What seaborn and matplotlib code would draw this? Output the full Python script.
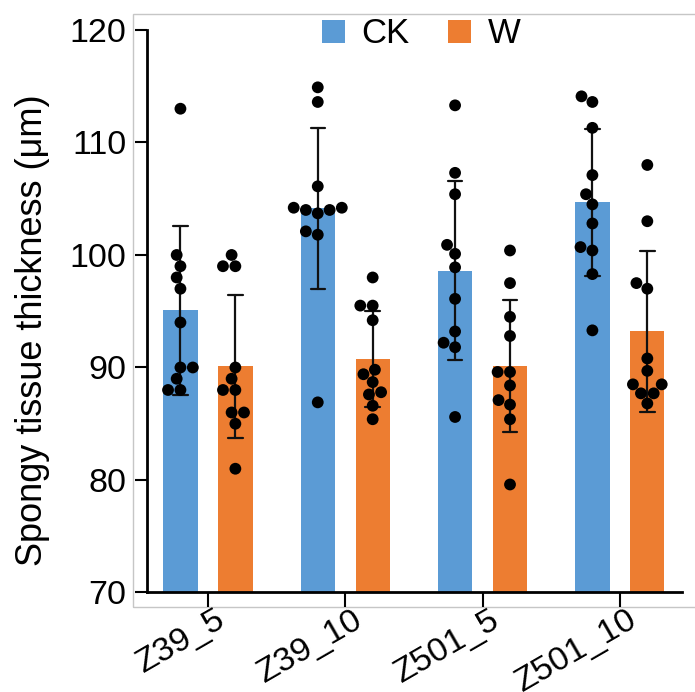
import matplotlib
matplotlib.use("Agg")
import matplotlib.pyplot as plt
import matplotlib.transforms as mtransforms
import seaborn as sns
import pandas as pd
from matplotlib.patches import Patch, Rectangle

sns.set_theme(style="ticks")
plt.rcParams["font.family"] = ["Liberation Sans", "DejaVu Sans"]
plt.rcParams["text.color"] = "black"
plt.rcParams["axes.labelcolor"] = "black"
plt.rcParams["xtick.color"] = "black"
plt.rcParams["ytick.color"] = "black"

groups = ["Z39_5", "Z39_10", "Z501_5", "Z501_10"]
treatments = ["CK", "W"]
colors = ["#5B9BD5", "#ED7D31"]

ck_z39_5 = [113, 100, 99, 98, 97, 94, 90, 90, 89, 88, 88]
w_z39_5 = [100, 99, 99, 90, 89, 88, 88, 86, 86, 85, 81]
ck_z39_10 = [114.9, 113.6, 106.1, 104.2, 104.2, 104.0, 104.0, 103.7, 102.1, 101.8, 86.9]
w_z39_10 = [98.0, 95.5, 95.5, 94.2, 89.8, 89.4, 88.7, 87.8, 87.6, 86.6, 85.4]
ck_z501_5 = [113.3, 107.3, 105.4, 100.9, 100.1, 98.9, 96.1, 93.2, 92.2, 91.8, 85.6]
w_z501_5 = [100.4, 97.5, 94.5, 92.8, 89.6, 89.6, 88.4, 87.1, 86.7, 85.4, 79.6]
ck_z501_10 = [114.1, 113.6, 111.3, 107.1, 105.4, 104.5, 102.8, 100.7, 100.4, 98.3, 93.3]
w_z501_10 = [108.0, 103.0, 97.5, 97.0, 90.8, 89.7, 88.5, 88.5, 87.7, 87.7, 86.8]

series = {
    ("Z39_5", "CK"): ck_z39_5, ("Z39_5", "W"): w_z39_5,
    ("Z39_10", "CK"): ck_z39_10, ("Z39_10", "W"): w_z39_10,
    ("Z501_5", "CK"): ck_z501_5, ("Z501_5", "W"): w_z501_5,
    ("Z501_10", "CK"): ck_z501_10, ("Z501_10", "W"): w_z501_10,
}
rows = []
for (g, t), vals in series.items():
    for v in vals:
        rows.append((g, t, v))
df = pd.DataFrame(rows, columns=["group", "treatment", "value"])

fig = plt.figure(figsize=(6.95, 6.92), dpi=100)
ax = fig.add_axes([0.2122, 0.1438, 0.7686, 0.8129])

palette = dict(zip(treatments, colors))
sns.barplot(data=df, x="group", y="value", hue="treatment", order=groups,
            hue_order=treatments, palette=palette, errorbar="sd", capsize=0.21,
            width=0.8, gap=0.375, saturation=1, linewidth=0,
            err_kws={"color": "#111111", "linewidth": 1.6}, legend=False, ax=ax)
sns.swarmplot(data=df, x="group", y="value", hue="treatment", order=groups,
              hue_order=treatments, palette=["black", "black"], dodge=True,
              size=8.5, legend=False, ax=ax, zorder=3)

ax.set_ylim(70, 120)
ax.set_xlim(-0.44, 3.45)
ax.set_yticks([70, 80, 90, 100, 110, 120])
for s in ["top", "right"]:
    ax.spines[s].set_visible(False)
for s in ["left", "bottom"]:
    ax.spines[s].set_linewidth(2)
    ax.spines[s].set_color("black")
ax.tick_params(axis="y", length=8.6, width=1.5, pad=6.5, labelsize=24.5)
ax.tick_params(axis="x", length=10.5, width=1.5, pad=0, labelsize=24.5)
offset = mtransforms.ScaledTranslation(0.07, 0.03, fig.dpi_scale_trans)
for lab in ax.get_xticklabels():
    lab.set_rotation(30)
    lab.set_ha("right")
    lab.set_va("top")
    lab.set_rotation_mode("anchor")
    lab.set_transform(lab.get_transform() + offset)
ax.set_xlabel("")
ax.set_ylabel("Spongy tissue thickness (μm)", fontsize=26)
ax.yaxis.set_label_coords(-0.182, 0.467)

handles = [Patch(facecolor=c, edgecolor="none") for c in colors]
ax.legend(handles, treatments, loc="center", bbox_to_anchor=(0.512, 0.993),
          ncol=2, frameon=False, fontsize=25, handlelength=0.66,
          handleheight=0.66, handletextpad=0.49, columnspacing=1.09)

fig.add_artist(Rectangle((133 / 695, 85 / 692), 1.0, (607 - 14.3) / 692,
                         transform=fig.transFigure, fill=False,
                         edgecolor="#c6c6c6", linewidth=1, zorder=0))

fig.savefig("out.png", dpi=100)
